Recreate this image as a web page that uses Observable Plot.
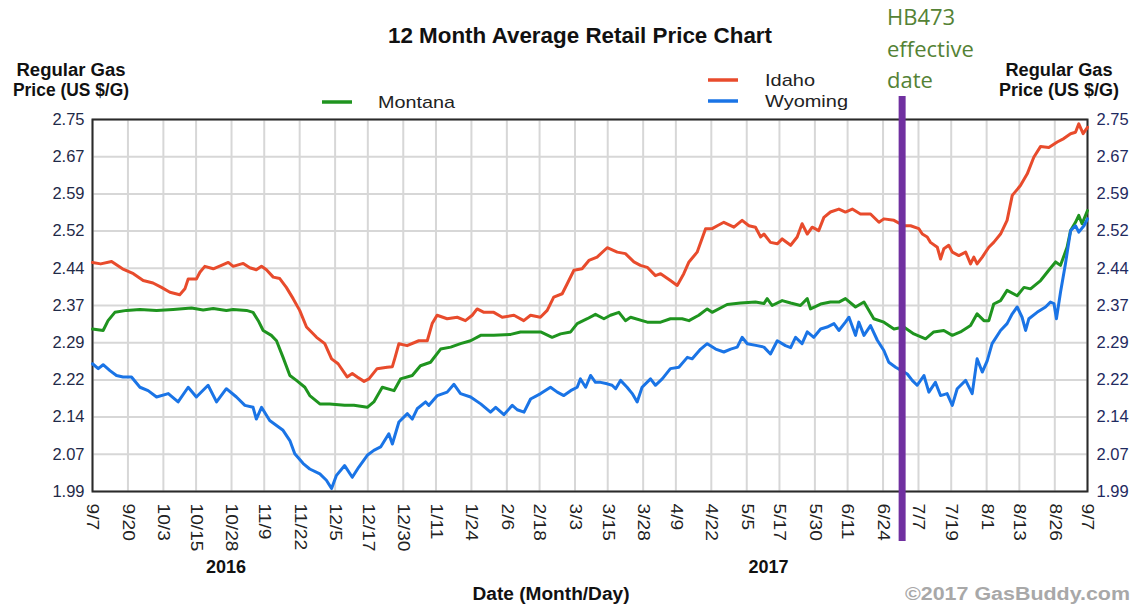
<!DOCTYPE html>
<html><head><meta charset="utf-8">
<script src="https://cdn.jsdelivr.net/npm/d3@7"></script>
<script src="https://cdn.jsdelivr.net/npm/@observablehq/plot@0.6"></script>
<style>
html,body{margin:0;padding:0;background:#fff;}
#chart{width:1138px;height:606px;position:relative;}
svg{overflow:visible}
</style></head><body><div id="chart"></div>
<script>
// ---- data (day offsets from 2016-09-07, price in US $/gal) ----
const startDate = "2016-09-07";
const endDate = "2017-09-07";
const effectiveDate = "2017-07-01";
const xTickDates = ["2016-09-07","2016-09-20","2016-10-03","2016-10-15","2016-10-28","2016-11-09","2016-11-22","2016-12-05","2016-12-17","2016-12-30","2017-01-11","2017-01-24","2017-02-06","2017-02-18","2017-03-03","2017-03-15","2017-03-28","2017-04-09","2017-04-22","2017-05-05","2017-05-17","2017-05-30","2017-06-11","2017-06-24","2017-07-07","2017-07-19","2017-08-01","2017-08-13","2017-08-26","2017-09-07"];
const yTickLabels = ["1.99","2.07","2.14","2.22","2.29","2.37","2.44","2.52","2.59","2.67","2.75"];
const yearLabels = ["2016","2017"];
const yearLabelDates = ["2016-10-26","2017-05-13"];
const seriesNames = ["Idaho","Montana","Wyoming"];
const seriesColors = ["#e84b2c","#1f941f","#1a74e6"];

const idahoDays = [0,3,7,11,15,18.6,22.2,25.3,28.4,32,33.9,35.1,38.1,39.4,41.2,44.3,47.3,49.8,51.6,55.3,57.7,60.1,62,63.8,66.3,68.7,71.1,73.6,76,78.5,82.2,85.2,87.7,90.1,93.4,95.3,97.1,99.6,101.4,104.4,108.1,110,111,112.4,115.4,119.7,122.8,124.6,126.4,130.1,133.8,136.8,139.3,141.1,143.6,147.2,150.3,154.6,158.2,160.7,164.3,166.8,169.2,172.3,174.1,176.6,179.6,182.1,185.1,188.8,192.5,195.5,198.6,201,203.5,206.5,208.4,212,214.5,216.9,218.8,221.8,224.9,227.3,229.2,231.6,235.3,238.3,240.8,243.2,245.1,246.3,248.7,251.2,253,256.1,258.5,260.3,262.2,264,266.4,268.3,270.7,273.8,276.2,278.7,281.7,285.4,288.5,290.3,294,297.6,300.1,303.1,304.4,306.2,307.4,309.9,311.1,312.3,314.1,315.4,317.8,320.3,322.1,323.3,324.5,326.4,328.8,330.6,333.1,335.5,337.4,340.4,342.9,345.3,347.8,350.8,353.9,356.3,358.8,360.6,361.8,363.4,365];
const idahoPrice = [2.458,2.455,2.46,2.445,2.435,2.421,2.416,2.407,2.397,2.392,2.404,2.424,2.424,2.438,2.45,2.445,2.452,2.458,2.45,2.456,2.447,2.443,2.45,2.443,2.428,2.425,2.407,2.384,2.36,2.326,2.305,2.292,2.261,2.251,2.224,2.231,2.224,2.215,2.22,2.241,2.244,2.245,2.264,2.292,2.288,2.298,2.298,2.333,2.35,2.343,2.346,2.339,2.35,2.363,2.356,2.356,2.346,2.35,2.339,2.35,2.346,2.36,2.387,2.394,2.414,2.442,2.445,2.462,2.469,2.488,2.479,2.476,2.459,2.452,2.448,2.431,2.435,2.421,2.411,2.435,2.459,2.479,2.527,2.527,2.533,2.54,2.53,2.544,2.533,2.53,2.51,2.516,2.499,2.496,2.506,2.493,2.51,2.537,2.516,2.53,2.523,2.55,2.561,2.567,2.561,2.567,2.557,2.557,2.54,2.547,2.544,2.533,2.533,2.527,2.516,2.51,2.499,2.489,2.465,2.486,2.493,2.479,2.472,2.479,2.455,2.469,2.455,2.469,2.489,2.499,2.516,2.544,2.595,2.615,2.639,2.673,2.695,2.693,2.704,2.711,2.721,2.724,2.741,2.721,2.734];

const montanaDays = [0,3.9,5.7,8.2,12.5,17.4,23.5,29.6,36.3,40.6,44.3,49.1,51.6,56.5,58.9,60.8,62.6,65.6,67.5,69.9,72.4,74.8,77.9,79.7,83.4,87,92.5,95.9,100.8,103.2,106.3,110.6,113,117.3,120.3,124,127.7,131.4,135,138.7,142.4,147.2,153.4,157,164.4,168.6,171.7,175.4,177.8,181.5,184.5,187.6,190,193.1,195.5,197.4,203.5,208.4,212,216.3,218.8,222.4,225.5,227.3,232.8,237.7,243.2,246.3,247.5,249.3,253,256.1,259.7,262.2,263.4,267.1,270.7,273.8,276.2,279.9,283,286.6,290.3,294,297.6,301.3,305.6,308.6,312.3,315.4,318.4,322.1,324.5,327,328.8,330.6,333.1,335.5,339.2,341.7,344.1,347.8,350.8,353.3,355.1,357.5,358.8,360.6,361.8,363,365];
const montanaPrice = [2.322,2.319,2.339,2.356,2.36,2.362,2.36,2.362,2.365,2.361,2.364,2.36,2.362,2.36,2.356,2.339,2.319,2.309,2.298,2.264,2.227,2.217,2.203,2.186,2.169,2.169,2.166,2.166,2.162,2.173,2.203,2.196,2.22,2.227,2.247,2.254,2.281,2.285,2.292,2.298,2.309,2.309,2.311,2.316,2.316,2.305,2.312,2.316,2.333,2.343,2.352,2.343,2.35,2.356,2.339,2.346,2.336,2.336,2.343,2.343,2.339,2.35,2.363,2.356,2.372,2.375,2.377,2.374,2.384,2.37,2.38,2.375,2.37,2.384,2.363,2.373,2.377,2.377,2.384,2.367,2.377,2.343,2.336,2.322,2.326,2.312,2.302,2.316,2.319,2.309,2.316,2.329,2.353,2.339,2.339,2.373,2.38,2.401,2.39,2.407,2.404,2.421,2.442,2.459,2.452,2.489,2.523,2.54,2.554,2.537,2.564];

const wyomingDays = [0,2.1,3.9,6.4,8.8,11.2,14.3,17.4,20.4,23.5,27.8,31.4,35.1,38.1,42.4,45.5,49.1,52.8,55.9,58.9,60.1,62,65,67.5,69.9,72.4,74.2,77.3,79.7,83.4,85.8,87.7,89.5,92.5,95.3,97.7,100.8,103.2,105.7,108.7,110,112.4,115.5,117.3,119.1,122.2,123.4,126.5,130.1,132.6,135,138.7,142.4,146,147.9,150.9,154,155.8,158.3,160.7,164.4,168,170.5,172.9,175.4,177.8,179,180.9,182.7,184.5,186.4,188.8,190.6,191.9,193.7,196.1,198,199.8,201.6,204.7,206.5,209,212,215.1,218.2,220,223.1,225.5,228.6,231.6,234.1,236.5,238.3,240.2,243.8,246.3,248.7,251.2,254.2,256.1,257.9,260.3,262.2,264.6,267.1,269.5,272,273.8,276.2,277.5,279.9,281.1,283,285.4,287.9,290.3,292.1,294.6,298.9,300.7,302.5,305,306.8,309.2,311.1,313.5,315.4,317.2,320.3,322.7,324.5,326.4,328.2,330,333.1,335.5,337.4,339.2,341,342.3,343.5,346.5,349.6,351.4,352.7,353.6,355.1,356.9,358.8,360.6,361.8,363.7,365];
const wyomingPrice = [2.251,2.241,2.249,2.237,2.227,2.224,2.224,2.203,2.196,2.183,2.19,2.173,2.203,2.183,2.207,2.173,2.2,2.183,2.166,2.162,2.138,2.162,2.135,2.125,2.115,2.094,2.067,2.047,2.036,2.026,2.013,1.996,2.023,2.043,2.019,2.04,2.064,2.074,2.081,2.108,2.087,2.132,2.149,2.138,2.159,2.173,2.166,2.186,2.193,2.209,2.19,2.183,2.169,2.152,2.162,2.147,2.166,2.157,2.152,2.179,2.19,2.203,2.193,2.186,2.196,2.203,2.22,2.203,2.227,2.213,2.213,2.21,2.207,2.2,2.217,2.203,2.19,2.173,2.203,2.22,2.207,2.22,2.241,2.244,2.264,2.261,2.281,2.292,2.281,2.275,2.281,2.285,2.305,2.292,2.288,2.285,2.271,2.298,2.288,2.284,2.305,2.292,2.316,2.305,2.322,2.326,2.333,2.319,2.336,2.346,2.309,2.336,2.309,2.329,2.299,2.278,2.254,2.244,2.23,2.217,2.207,2.227,2.193,2.213,2.186,2.19,2.166,2.2,2.217,2.19,2.261,2.234,2.257,2.292,2.319,2.333,2.353,2.367,2.346,2.319,2.343,2.356,2.367,2.377,2.374,2.343,2.397,2.455,2.523,2.533,2.52,2.533,2.547];

// ---- build ----
const parse = d3.utcParse("%Y-%m-%d");
const base = parse(startDate);
const toDate = d => new Date(+base + d * 864e5);
const mk = (name, days, prices) => days.map((d, i) => ({state: name, date: toDate(d), price: prices[i]}));
const series = [mk("Idaho", idahoDays, idahoPrice), mk("Montana", montanaDays, montanaPrice), mk("Wyoming", wyomingDays, wyomingPrice)];
const xTicks = xTickDates.map(parse);
const yMin = +yTickLabels[0], yMax = +yTickLabels[yTickLabels.length - 1];
const yStep = (yMax - yMin) / (yTickLabels.length - 1);
const yTicks = yTickLabels.map((_, i) => yMin + i * yStep);
const yFmt = d => yTickLabels[Math.round((d - yMin) / yStep)];
const years = yearLabels.map((t, i) => ({label: t, date: parse(yearLabelDates[i])}));

const chart = Plot.plot({
  width: 1138, height: 606,
  marginTop: 119, marginBottom: 115, marginLeft: 92, marginRight: 51,
  style: {fontFamily: "'Liberation Sans', Arial, sans-serif", background: "#fff", overflow: "visible"},
  x: {type: "utc", domain: [parse(startDate), parse(endDate)]},
  y: {domain: [yMin, yMax]},
  marks: [
    Plot.gridX(xTicks, {stroke: "#d7d7d7", strokeOpacity: 1, strokeWidth: 2}),
    Plot.gridY(yTicks, {stroke: "#d7d7d7", strokeOpacity: 1, strokeWidth: 2}),
    Plot.frame({stroke: "#2a2a2a", strokeWidth: 2}),
    ...series.map((s, i) => Plot.line(s, {x: "date", y: "price", stroke: seriesColors[i], strokeWidth: 3, curve: "linear"})),
    Plot.ruleX([parse(effectiveDate)], {stroke: "#7030a0", strokeWidth: 7, insetTop: -23, insetBottom: -50}),
    Plot.axisX(xTicks, {anchor: "bottom", tickSize: 0, tickPadding: 12, tickRotate: 90, tickFormat: d3.utcFormat("%-m/%-d"), fontSize: 16, fill: "#222", label: null}),
    Plot.axisY(yTicks, {anchor: "left", tickSize: 0, tickPadding: 8, tickFormat: yFmt, fontSize: 16.5, fill: "#1f2a48", label: null}),
    Plot.axisY(yTicks, {anchor: "right", tickSize: 0, tickPadding: 9, tickFormat: yFmt, fontSize: 16.5, fill: "#1f2a60", label: null}),
    Plot.text(years, {x: "date", text: "label", frameAnchor: "bottom", dy: 81, fontSize: 18, fontWeight: "bold", fill: "#111"})
  ]
});
document.getElementById("chart").appendChild(chart);

// stretch rotated tick labels along reading direction
d3.select(chart).selectAll('g[aria-label="x-axis tick label"] text').each(function() {
  const t = this.getAttribute("transform");
  if (t) this.setAttribute("transform", t + " scale(1.2,1)");
});

// ---- annotations ----
const svg = d3.select(chart);
const font = "'Liberation Sans', Arial, sans-serif";
function txt(x, y, s, o = {}) {
  const t = svg.append("text").attr("x", x).attr("y", y).text(s)
    .attr("font-family", o.family || font).attr("font-size", o.size || 16)
    .attr("font-weight", o.weight || "normal").attr("fill", o.fill || "#111")
    .attr("text-anchor", o.anchor || "start");
  if (o.len) t.attr("textLength", o.len).attr("lengthAdjust", "spacingAndGlyphs");
  return t;
}
txt(580, 43, "12 Month Average Retail Price Chart", {size: 22, weight: "bold", anchor: "middle", len: 384});
txt(71, 76, "Regular Gas", {size: 18, weight: "bold", anchor: "middle", len: 109});
txt(71, 96, "Price (US $/G)", {size: 18, weight: "bold", anchor: "middle", len: 116});
txt(1059, 76, "Regular Gas", {size: 18, weight: "bold", anchor: "middle", len: 107});
txt(1059, 96, "Price (US $/G)", {size: 18, weight: "bold", anchor: "middle", len: 120});
// legend
const legend = [{x: 322, y: 102, tx: 378, len: 77}, {x: 708, y: 80, tx: 765, len: 50}, {x: 708, y: 101, tx: 765, len: 83}];
const legendOrder = [1, 0, 2];
legendOrder.forEach((si, k) => {
  const L = legend[k];
  svg.append("line").attr("x1", L.x).attr("x2", L.x + 30).attr("y1", L.y).attr("y2", L.y)
    .attr("stroke", seriesColors[si]).attr("stroke-width", 3.5);
  txt(L.tx, L.y + 6, seriesNames[si], {size: 17, fill: "#222", len: L.len});
});
txt(551, 600, "Date (Month/Day)", {size: 18, weight: "bold", anchor: "middle", len: 157});
txt(1130, 600, "©2017 GasBuddy.com", {size: 18, weight: "bold", anchor: "end", fill: "#a8a8a8", len: 225});
const green = "#548235";
txt(887, 25, "HB473", {size: 22, family: "'Open Sans', sans-serif", fill: green});
txt(887, 57, "effective", {size: 22, family: "'Open Sans', sans-serif", fill: green});
txt(887, 88, "date", {size: 22, family: "'Open Sans', sans-serif", fill: green});
</script></body></html>
